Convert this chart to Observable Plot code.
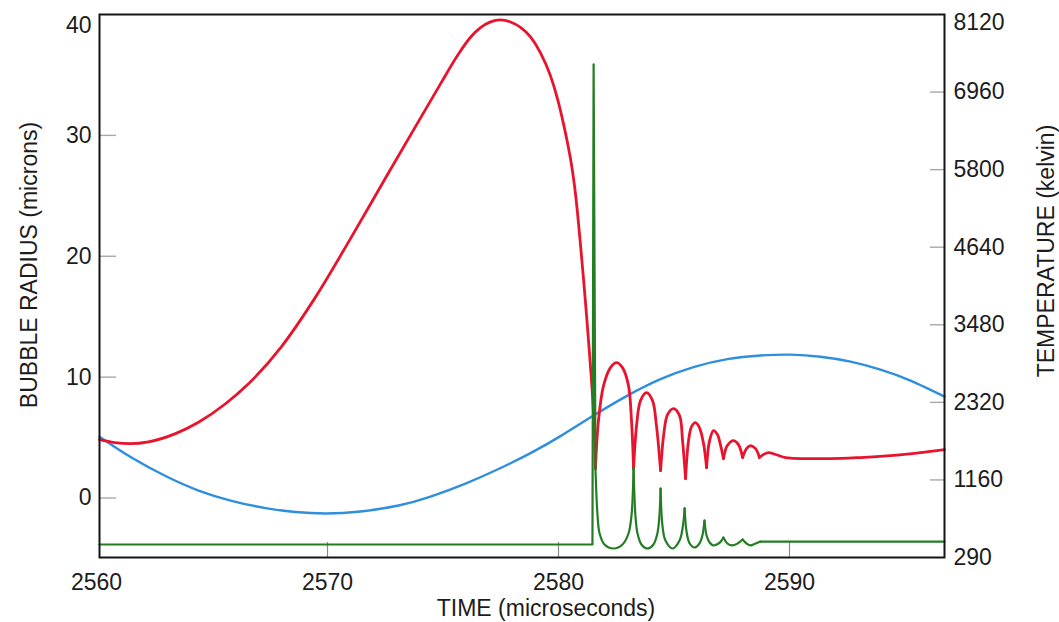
<!DOCTYPE html>
<html>
<head>
<meta charset="utf-8">
<script src="https://cdn.jsdelivr.net/npm/d3@7"></script>
<script src="https://cdn.jsdelivr.net/npm/@observablehq/plot@0.6"></script>
<style>
  html, body { margin: 0; padding: 0; background: #ffffff; }
  #chart svg { display: block; }
</style>
</head>
<body>
<div id="chart"></div>
<script>
// ---------- data ----------
const timeTicks = [2560, 2570, 2580, 2590];
const radiusTicks = [0, 10, 20, 30, 40];
const tempTicks = [290, 1160, 2320, 3480, 4640, 5800, 6960, 8120];

// bubble radius (microns) vs time (microseconds): growth and first collapse
const radiusCollapse = [
  [2560.130, 4.83], [2560.779, 4.59], [2561.472, 4.50], [2562.251, 4.65], [2563.420, 5.33],
  [2564.416, 6.27], [2565.584, 7.80], [2566.580, 9.45], [2568.009, 12.53], [2569.481, 16.62],
  [2570.996, 21.46], [2572.511, 26.47], [2574.156, 31.86], [2574.892, 34.26], [2575.628, 36.61],
  [2576.191, 38.12], [2576.624, 38.91], [2577.057, 39.39], [2577.490, 39.55], [2577.923, 39.38],
  [2578.355, 38.93], [2578.788, 38.14], [2579.221, 36.82], [2579.654, 34.92], [2579.957, 33.02],
  [2580.217, 30.95], [2580.390, 29.38], [2580.520, 28.06], [2580.693, 25.83], [2580.823, 23.60],
  [2580.952, 20.95], [2581.082, 18.14], [2581.212, 15.17], [2581.299, 13.02], [2581.385, 10.87],
  [2581.472, 8.47], [2581.558, 5.17], [2581.602, 2.44]
];
// after-bounces of the radius (each arc from cusp to cusp)
const radiusBounces = [
  [[2581.60, 2.44], [2581.73, 6.40], [2581.95, 9.30], [2582.25, 10.79], [2582.51, 11.20], [2582.77, 10.79], [2583.03, 9.30], [2583.16, 6.40], [2583.25, 2.44]],
  [[2583.25, 2.44], [2583.38, 6.00], [2583.55, 8.06], [2583.81, 8.72], [2584.07, 8.06], [2584.24, 6.00], [2584.42, 2.27]],
  [[2584.42, 2.27], [2584.55, 5.17], [2584.72, 6.90], [2584.98, 7.40], [2585.24, 6.82], [2585.37, 4.75], [2585.50, 1.61]],
  [[2585.50, 1.61], [2585.63, 4.75], [2585.76, 5.91], [2585.93, 6.24], [2586.10, 5.83], [2586.28, 4.50], [2586.41, 2.52]],
  [[2586.41, 2.52], [2586.54, 4.75], [2586.71, 5.58], [2586.88, 5.25], [2587.01, 4.42], [2587.14, 3.26]],
  [[2587.14, 3.26], [2587.31, 4.34], [2587.57, 4.75], [2587.79, 4.42], [2587.97, 3.35]],
  [[2587.97, 3.35], [2588.14, 4.09], [2588.31, 4.34], [2588.53, 4.09], [2588.70, 3.35]]
];
const radiusTail = [
  [2588.70, 3.35], [2589.09, 3.76], [2589.40, 3.60], [2589.83, 3.35], [2590.48, 3.26],
  [2591.78, 3.26], [2593.07, 3.35], [2594.37, 3.51], [2595.67, 3.76], [2596.71, 4.01]
];

// blue curve (drawn against the left axis)
const driveCurve = [
  [2560.130, 5.08], [2561.515, 3.35], [2562.987, 1.82], [2564.416, 0.62], [2565.887, -0.25],
  [2567.316, -0.83], [2568.615, -1.16], [2569.913, -1.28], [2571.429, -1.12], [2573.074, -0.62],
  [2574.459, 0.12], [2575.974, 1.20], [2577.403, 2.40], [2578.831, 3.76], [2580.087, 5.12],
  [2581.515, 6.82], [2582.987, 8.47], [2584.416, 9.83], [2585.844, 10.83], [2587.316, 11.49],
  [2588.745, 11.79], [2590.043, 11.86], [2591.342, 11.69], [2592.641, 11.28], [2593.939, 10.62],
  [2595.238, 9.71], [2596.710, 8.39]
];

// temperature (kelvin): baseline and main spike
const tempSpike = [[2560.13, 436], [2581.47, 436], [2581.52, 7373], [2581.60, 1331]];
// temperature after-flashes (each valley from peak to peak)
const tempBounces = [
  [[2581.60, 1331], [2581.69, 761], [2581.78, 559], [2581.99, 436], [2582.38, 391], [2582.77, 436], [2583.03, 559], [2583.16, 761], [2583.25, 1331]],
  [[2583.25, 1331], [2583.33, 761], [2583.42, 559], [2583.59, 436], [2583.85, 391], [2584.11, 436], [2584.28, 559], [2584.37, 761], [2584.42, 1064]],
  [[2584.42, 1064], [2584.50, 649], [2584.63, 481], [2584.94, 391], [2585.24, 481], [2585.37, 615], [2585.46, 840]],
  [[2585.46, 840], [2585.55, 570], [2585.68, 447], [2585.89, 402], [2586.10, 447], [2586.23, 537], [2586.32, 705]],
  [[2586.32, 705], [2586.41, 537], [2586.54, 458], [2586.71, 425], [2586.93, 447], [2587.06, 481], [2587.14, 514]],
  [[2587.14, 514], [2587.31, 447], [2587.53, 425], [2587.75, 447], [2587.97, 492]],
  [[2587.97, 492], [2588.14, 447], [2588.31, 425], [2588.53, 447], [2588.74, 469]]
];
const tempTail = [[2588.74, 469], [2596.71, 469]];

// ---------- scales & helpers ----------
const xDomain = [2560.13, 2596.71];
const yDomain = [-4.92, 40];
const W = 1059, H = 622;
const mL = 99, mR = 115, mT = 14, mB = 65;
const frameW = W - mL - mR, frameH = H - mT - mB;

// right axis: evenly spaced tick positions labelled with the temperatures
const tickR = tempTicks.map((_, i) => yDomain[0] + i * (yDomain[1] - yDomain[0]) / (tempTicks.length - 1));
const tempToR = d3.scaleLinear().domain(tempTicks).range(tickR);
const tempLabel = r => {
  let best = 0;
  tickR.forEach((v, i) => { if (Math.abs(v - r) < Math.abs(tickR[best] - r)) best = i; });
  return String(tempTicks[best]);
};

const rows = (segs, prefix, conv = v => v) =>
  segs.flatMap((seg, k) => seg.map(([t, v]) => ({t, v: conv(v), seg: prefix + k})));

const redMain = rows([radiusCollapse, radiusTail], "m");
const redArcs = rows(radiusBounces, "r");
const greenCurved = rows(tempBounces, "g", tempToR);
const greenLinear = rows([tempSpike, tempTail], "l", tempToR);

const FONT = '"Liberation Sans", Arial, Helvetica, sans-serif';
const textColor = "#1c1c1c";
const RED = "#e8142e", BLUE = "#2f8fdc", GREEN = "#237d23";

const chart = Plot.plot({
  width: W,
  height: H,
  marginLeft: mL,
  marginRight: mR,
  marginTop: mT,
  marginBottom: mB,
  style: {fontFamily: FONT, fontSize: "23px", background: "#ffffff", color: textColor},
  x: {domain: xDomain},
  y: {domain: yDomain},
  marks: [
    // inward tick marks
    Plot.tickY(radiusTicks.slice(0, -1), {y: d => d, stroke: "#a8a8a8", strokeWidth: 1.4, insetRight: frameW - 17}),
    Plot.tickY(tickR.slice(1, -1), {y: d => d, stroke: "#a8a8a8", strokeWidth: 1.4, insetLeft: frameW - 14}),
    Plot.tickX(timeTicks.slice(1), {x: d => d, stroke: "#8a8a8a", strokeWidth: 1.2, insetTop: frameH - 15}),
    // curves
    Plot.line(driveCurve, {x: d => d[0], y: d => d[1], stroke: BLUE, strokeWidth: 2.4, curve: "natural"}),
    Plot.line(redMain, {x: "t", y: "v", z: "seg", stroke: RED, strokeWidth: 2.8, curve: "monotone-x"}),
    Plot.line(redArcs, {x: "t", y: "v", z: "seg", stroke: RED, strokeWidth: 2.8, curve: "catmull-rom"}),
    Plot.line(greenLinear, {x: "t", y: "v", z: "seg", stroke: GREEN, strokeWidth: 2.2}),
    Plot.line(greenCurved, {x: "t", y: "v", z: "seg", stroke: GREEN, strokeWidth: 2.2, curve: "catmull-rom"}),
    // frame
    Plot.frame({stroke: "#151515", strokeWidth: 2}),
    // axes
    Plot.axisX(timeTicks, {anchor: "bottom", tickSize: 0, tickPadding: 16, tickFormat: d => String(d), label: null, fontSize: 23, fill: textColor}),
    Plot.axisY(radiusTicks.slice(0, -1), {anchor: "left", tickSize: 0, tickPadding: 8, tickFormat: d => String(d), label: null, fontSize: 23, fill: textColor}),
    Plot.axisY(radiusTicks.slice(-1), {anchor: "left", tickSize: 0, tickPadding: 8, dy: 11, tickFormat: d => String(d), label: null, fontSize: 23, fill: textColor}),
    Plot.axisY(tickR.slice(0, -1), {anchor: "right", tickSize: 0, tickPadding: 9, tickFormat: tempLabel, label: null, fontSize: 23, fill: textColor}),
    Plot.axisY(tickR.slice(-1), {anchor: "right", tickSize: 0, tickPadding: 9, dy: 8, tickFormat: tempLabel, label: null, fontSize: 23, fill: textColor}),
    // axis titles
    Plot.text(["TIME (microseconds)"], {text: d => d, frameAnchor: "bottom", dx: 24, dy: 51, fontSize: 23, textAnchor: "middle", lineAnchor: "middle", fill: textColor}),
    Plot.text(["BUBBLE RADIUS (microns)"], {text: d => d, frameAnchor: "left", dx: -70, dy: -21, rotate: -90, fontSize: 23, textAnchor: "middle", lineAnchor: "middle", fill: textColor}),
    Plot.text(["TEMPERATURE (kelvin)"], {text: d => d, frameAnchor: "right", dx: 102, dy: -35, rotate: -90, fontSize: 23, textAnchor: "middle", lineAnchor: "middle", fill: textColor})
  ]
});

document.getElementById("chart").appendChild(chart);
</script>
</body>
</html>
